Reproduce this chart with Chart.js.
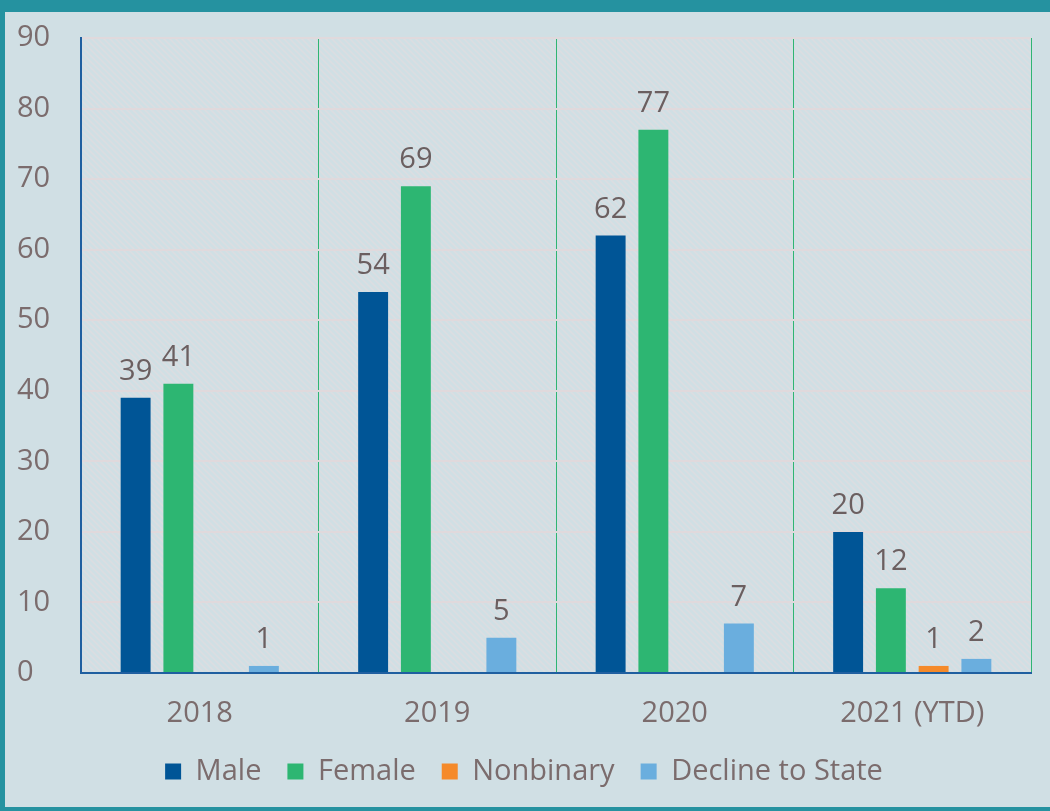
<!DOCTYPE html>
<html>
<head>
<meta charset="utf-8">
<script src="https://cdn.jsdelivr.net/npm/chart.js@4"></script>
<style>
  html, body { margin: 0; padding: 0; background: #d0dfe4; }
  #wrap {
    width: 1045px; height: 795px;
    border-top: 12px solid #2592a0;
    border-left: 5px solid #2592a0;
    border-bottom: 4px solid #2592a0;
    background: #d0dfe4;
  }
</style>
</head>
<body>
<div id="wrap"><canvas id="myChart" width="1045" height="795"></canvas></div>
<script>
var years = ['2018', '2019', '2020', '2021 (YTD)'];
var male = [39, 54, 62, 20];
var female = [41, 69, 77, 12];
var nonbinary = [null, null, null, 1];
var decline = [1, 5, 7, 2];
var yTicks = [0, 10, 20, 30, 40, 50, 60, 70, 80, 90];

var textColor = '#7b6c6d';
var fontFam = '"Open Sans", "Liberation Sans", Arial, sans-serif';
var fs = 29;

// diagonal hatch for the plot background
function makeHatch() {
  var c = document.createElement('canvas');
  c.width = 6; c.height = 6;
  var g = c.getContext('2d');
  g.fillStyle = '#d0dfe4';
  g.fillRect(0, 0, 6, 6);
  g.strokeStyle = '#dcdde1';
  g.lineWidth = 1.5;
  g.beginPath();
  g.moveTo(0, 0); g.lineTo(6, 6);
  g.moveTo(-3, 3); g.lineTo(3, 9);
  g.moveTo(3, -3); g.lineTo(9, 3);
  g.stroke();
  return g.createPattern(c, 'repeat');
}

var plotBg = {
  id: 'plotBg',
  beforeDraw: function(chart) {
    var a = chart.chartArea, ctx = chart.ctx;
    ctx.save();
    ctx.fillStyle = makeHatch();
    ctx.fillRect(a.left, a.top, a.right - a.left, a.bottom - a.top);
    ctx.restore();
  }
};

var valueLabels = {
  id: 'valueLabels',
  afterDatasetsDraw: function(chart) {
    var ctx = chart.ctx;
    ctx.save();
    ctx.font = fs + 'px ' + fontFam;
    ctx.fillStyle = '#6b5f60';
    ctx.textAlign = 'center';
    ctx.textBaseline = 'alphabetic';
    chart.data.datasets.forEach(function(ds, i) {
      chart.getDatasetMeta(i).data.forEach(function(bar, j) {
        var v = ds.data[j];
        if (v === null || v === undefined) return;
        ctx.fillText(String(v), bar.x, bar.y - 18);
      });
    });
    ctx.restore();
  }
};

new Chart('myChart', {
  type: 'bar',
  data: {
    labels: years,
    datasets: [
      { label: 'Male', data: male, backgroundColor: '#005596' },
      { label: 'Female', data: female, backgroundColor: '#2db672' },
      { label: 'Nonbinary', data: nonbinary, backgroundColor: '#f58a2a' },
      { label: 'Decline to State', data: decline, backgroundColor: '#6aaede' }
    ]
  },
  options: {
    responsive: false,
    animation: false,
    categoryPercentage: 0.72,
    barPercentage: 0.7,
    layout: { padding: { top: 26, right: 19, left: 12, bottom: 11 } },
    plugins: {
      tooltip: { enabled: false },
      legend: {
        position: 'bottom',
        labels: {
          boxWidth: 16, boxHeight: 16, padding: 26,
          color: textColor,
          font: { size: fs, family: fontFam }
        }
      }
    },
    scales: {
      x: {
        grid: { color: '#2fb573', lineWidth: 1, drawTicks: false, offset: true },
        border: { color: '#1f5fa0', width: 2 },
        ticks: { color: textColor, font: { size: fs, family: fontFam }, padding: 23 },
        afterFit: function(s) { s.height = 58; }
      },
      y: {
        min: 0, max: 90,
        afterBuildTicks: function(s) { s.ticks = yTicks.map(function(v) { return { value: v }; }); },
        grid: { color: '#e0d9dc', lineWidth: 2, drawTicks: false },
        border: { color: '#1f5fa0', width: 2 },
        ticks: { color: textColor, font: { size: fs, family: fontFam }, padding: 0, crossAlign: 'far' },
        afterFit: function(s) { s.width = 64; s.paddingTop = 0; s.paddingBottom = 0; }
      }
    }
  },
  plugins: [plotBg, valueLabels]
});
</script>
</body>
</html>
